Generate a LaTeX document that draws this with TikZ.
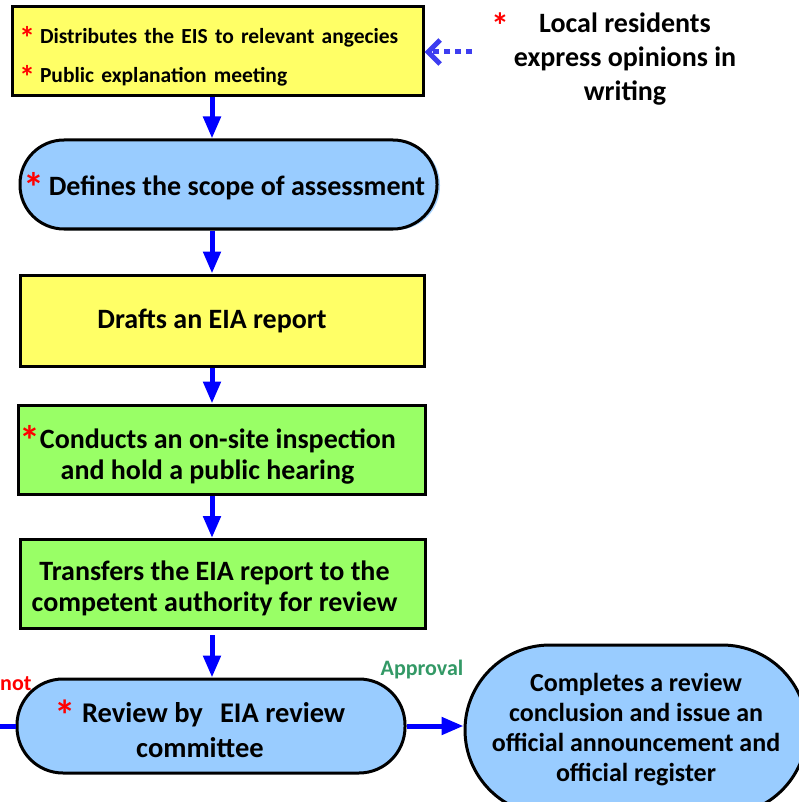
\documentclass[tikz,border=0pt]{standalone}
\usepackage{fontspec}
\setmainfont{Carlito}
\usepackage{tikz}
\usetikzlibrary{arrows.meta,shadows}
\definecolor{boxyellow}{HTML}{FFFF66}
\definecolor{boxblue}{HTML}{99CCFF}
\definecolor{boxgreen}{HTML}{99FF66}
\definecolor{flowblue}{HTML}{0000FF}
\definecolor{dotblue}{HTML}{3D3DF0}
\definecolor{okgreen}{HTML}{339966}
\tikzset{>={Triangle[length=22pt,width=17pt]}}
\tikzset{
  flowbox/.style={draw=black,line width=3pt,minimum width=#1,minimum height=89pt,
    inner sep=0pt,align=center,font=\bfseries\fontsize{28}{31}\selectfont},
  stadium/.style={flowbox=#1,fill=boxblue,rounded corners=44pt},
  flow/.style={->,draw=flowblue,line width=5pt},
  flowline/.style={draw=flowblue,line width=5pt},
  dotflow/.style={-{Straight Barb[length=12pt,width=24pt]},draw=dotblue,line width=5pt,
    dash pattern=on 6pt off 5pt},
  tag/.style={font=\bfseries\fontsize{22}{26}\selectfont,inner sep=0pt}
}
\newcommand{\redstar}{\textcolor{red}{\smash{\raisebox{-0.25em}{\scalebox{1.5}{*}}}}}
\newcommand{\lift}[1]{\rule{0pt}{#1}}

\begin{document}
\begin{tikzpicture}[x=1pt,y=-1pt]
  \useasboundingbox (0,0) rectangle (798,802);
  \coordinate (axis) at (212,0);
  \node[flowbox=411pt,fill=boxyellow,align=left,text width=397pt,
        font=\bfseries\fontsize{21.5}{39}\selectfont] (top) at (217.5,51.5)
        {\lift{27pt}\redstar\hspace{5pt}Distributes the EIS to relevant angecies\\\redstar\hspace{5pt}Public explanation meeting};
  \node[font=\bfseries\fontsize{28}{34}\selectfont,align=center] (residents) at (625,59)
        {Local residents\\express opinions in\\writing};
  \node[tag,text=red,font=\bfseries\fontsize{36}{36}\selectfont] (star) at (500,26) {*};
  \coordinate (dotstart) at (472,52);
  \draw[dotflow] (dotstart) -- (top.east |- dotstart);

  \node[stadium=417pt,
        copy shadow={shadow xshift=3pt,shadow yshift=-1pt,draw=none,fill=boxblue!85}]
        (scope) at (228.5,184.5) {\lift{27pt}\redstar\hspace{4pt}Defines the scope of assessment\hspace*{8pt}};
  \node[flowbox=404pt,minimum height=91pt,fill=boxyellow] (drafts) at (222,320.5)
        {Drafts an EIA report\hspace*{20pt}};
  \node[flowbox=407pt,fill=boxgreen] (inspect) at (221.5,449.5)
        {\lift{33pt}\redstar Conducts an on-site inspection\hspace*{28pt}\\and hold a public hearing\hspace*{28pt}};
  \node[flowbox=405pt,fill=boxgreen] (transfer) at (222.5,584)
        {\lift{28pt}Transfers the EIA report to the\hspace*{16pt}\\competent authority for review\hspace*{16pt}};
  \node[stadium=388pt,minimum height=94pt,rounded corners=46pt,
        font=\bfseries\fontsize{28.5}{33}\selectfont] (review) at (211,726)
        {\lift{29pt}\redstar\hspace{6pt}Review by\hspace{0.6em}EIA review\hspace*{22pt}\\[2pt]committee\hspace*{22pt}};
  \node[flowbox=342pt,minimum height=170pt,fill=boxblue,rounded corners=85pt,
        font=\bfseries\fontsize{26}{30}\selectfont] (notice) at (636,730)
        {Completes a review\\conclusion and issue an\\official announcement and\\official register};

  \draw[flow] (top.south -| axis) -- (scope.north -| axis);
  \draw[flow] (scope.south -| axis) -- (drafts.north -| axis);
  \draw[flow] (drafts.south -| axis) -- (inspect.north -| axis);
  \draw[flow] (inspect.south -| axis) -- (transfer.north -| axis);
  \draw[flow] ([yshift=-5pt]transfer.south -| axis) -- (review.north -| axis);
  \draw[flow] (review.east) -- (review.east -| notice.west);
  \coordinate (back) at (-5,726);
  \draw[flowline] (review.west) -- (back);

  \node[tag,text=okgreen] (approval) at (422,670) {Approval};
  \node[tag,text=red,anchor=west] (notlabel) at (0,684) {not};
\end{tikzpicture}
\end{document}
